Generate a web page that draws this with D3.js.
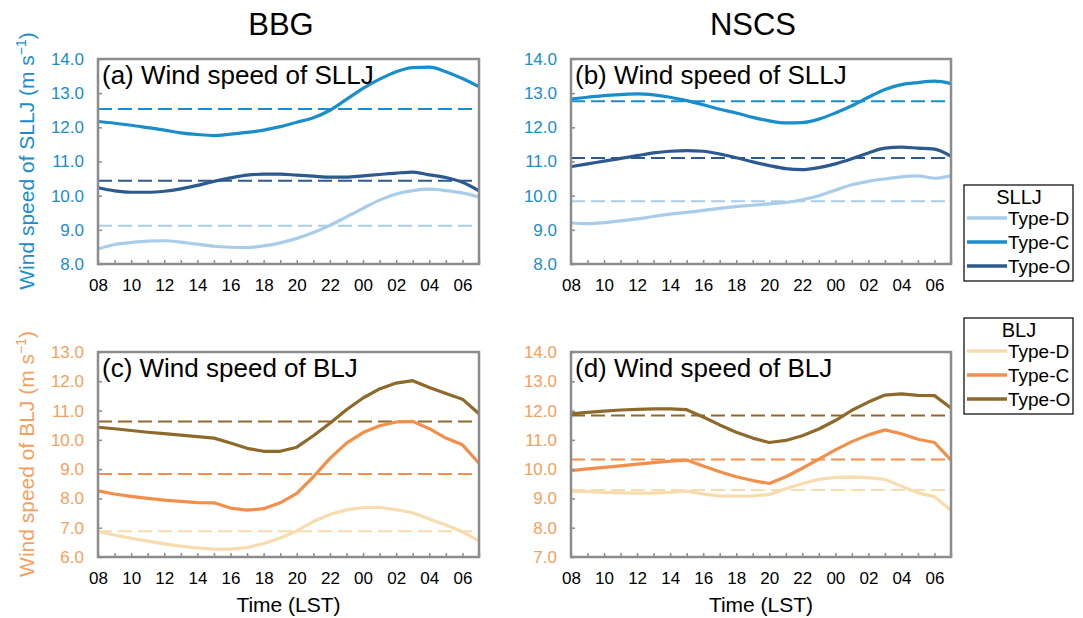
<!DOCTYPE html>
<html>
<head>
<meta charset="utf-8">
<script src="https://cdn.jsdelivr.net/npm/d3@7"></script>
<style>
body { margin: 0; background: #fff; }
text { font-family: "Liberation Sans", Arial, sans-serif; }
</style>
</head>
<body>
<div id="chart"></div>
<script>
const width = 1083;
const height = 618;

// hourly local time, 08 LST to 07 LST next day
const hours = ["08","09","10","11","12","13","14","15","16","17","18","19",
               "20","21","22","23","00","01","02","03","04","05","06","07"];
const hourLabels = ["08","10","12","14","16","18","20","22","00","02","04","06"];
const types = ["Type-D", "Type-C", "Type-O"];

const slljTicks = [8, 9, 10, 11, 12, 13, 14];
const bljTicksBBG = [6, 7, 8, 9, 10, 11, 12, 13];
const bljTicksNSCS = [7, 8, 9, 10, 11, 12, 13, 14];

// (a) BBG SLLJ
const bbgSlljD = [8.44,8.57,8.63,8.67,8.68,8.64,8.58,8.52,8.49,8.48,8.53,8.62,
                  8.75,8.92,9.13,9.38,9.63,9.87,10.05,10.15,10.19,10.15,10.08,9.96];
const bbgSlljC = [12.17,12.12,12.06,11.99,11.92,11.84,11.79,11.76,11.80,11.85,11.92,12.02,
                  12.15,12.28,12.50,12.82,13.14,13.41,13.63,13.75,13.76,13.63,13.43,13.19];
const bbgSlljO = [10.23,10.14,10.10,10.10,10.13,10.20,10.30,10.42,10.52,10.60,10.63,10.63,
                  10.60,10.57,10.54,10.54,10.58,10.62,10.66,10.69,10.61,10.53,10.39,10.14];
const bbgSlljMean = [9.12, 12.54, 10.44];

// (b) NSCS SLLJ
const nscsSlljD = [9.20,9.18,9.21,9.26,9.32,9.39,9.46,9.51,9.57,9.63,9.68,9.72,
                   9.76,9.80,9.88,10.00,10.16,10.32,10.42,10.49,10.55,10.58,10.51,10.58];
const nscsSlljC = [12.83,12.88,12.93,12.96,12.98,12.95,12.88,12.78,12.66,12.53,12.42,12.29,
                   12.19,12.13,12.14,12.24,12.42,12.63,12.88,13.11,13.25,13.31,13.35,13.28];
const nscsSlljO = [10.85,10.93,11.01,11.09,11.17,11.25,11.30,11.32,11.30,11.22,11.11,10.99,
                   10.88,10.79,10.76,10.82,10.93,11.08,11.25,11.39,11.42,11.39,11.36,11.15];
const nscsSlljMean = [9.84, 12.76, 11.10];

// (c) BBG BLJ
const bbgBljD = [6.87,6.75,6.64,6.54,6.45,6.37,6.31,6.27,6.27,6.32,6.46,6.65,
                 6.89,7.21,7.45,7.61,7.69,7.69,7.62,7.51,7.30,7.09,6.86,6.55];
const bbgBljC = [8.26,8.15,8.07,8.00,7.94,7.90,7.86,7.85,7.67,7.60,7.65,7.85,
                 8.17,8.74,9.37,9.89,10.25,10.48,10.61,10.63,10.38,10.06,9.83,9.20];
const bbgBljO = [10.43,10.38,10.32,10.26,10.21,10.16,10.11,10.06,9.89,9.71,9.61,9.61,
                 9.75,10.14,10.57,11.03,11.43,11.74,11.94,12.02,11.79,11.58,11.39,10.89];
const bbgBljMean = [6.88, 8.83, 10.63];

// (d) NSCS BLJ
const nscsBljD = [9.25,9.23,9.21,9.19,9.18,9.18,9.21,9.25,9.15,9.09,9.08,9.09,
                  9.13,9.33,9.51,9.65,9.72,9.73,9.71,9.65,9.42,9.19,9.06,8.60];
const nscsBljC = [9.95,10.01,10.06,10.11,10.17,10.22,10.27,10.31,10.11,9.91,9.74,9.61,
                  9.51,9.74,10.03,10.34,10.66,10.94,11.17,11.34,11.21,11.02,10.91,10.31];
const nscsBljO = [11.89,11.94,11.98,12.02,12.04,12.06,12.06,12.03,11.78,11.51,11.26,11.06,
                  10.91,10.98,11.14,11.37,11.66,12.01,12.29,12.53,12.57,12.52,12.51,12.09];
const nscsBljMean = [9.29, 10.33, 11.83];

const slljColors = ["#a9cde9", "#1a8dcb", "#2d5a8e"];
const bljColors = ["#f6dcae", "#f28f4b", "#8d6a2c"];
const slljTextColor = "#1a8dcb";
const bljTextColor = "#f5a05c";
const frameColor = "#8c8c8c";

const svg = d3.select("#chart").append("svg")
    .attr("width", width)
    .attr("height", height)
    .style("background-color", "#fff");

const panels = [
    { title: "(a) Wind speed of SLLJ", x0: 98, x1: 479, y0: 59, y1: 264,
      ticks: slljTicks, series: [bbgSlljD, bbgSlljC, bbgSlljO], means: bbgSlljMean,
      colors: slljColors, tickColor: slljTextColor, smooth: true, xTitle: false },
    { title: "(b) Wind speed of SLLJ", x0: 571, x1: 951, y0: 59, y1: 264,
      ticks: slljTicks, series: [nscsSlljD, nscsSlljC, nscsSlljO], means: nscsSlljMean,
      colors: slljColors, tickColor: slljTextColor, smooth: true, xTitle: false },
    { title: "(c) Wind speed of BLJ", x0: 98, x1: 479, y0: 352, y1: 557,
      ticks: bljTicksBBG, series: [bbgBljD, bbgBljC, bbgBljO], means: bbgBljMean,
      colors: bljColors, tickColor: bljTextColor, smooth: false, xTitle: true },
    { title: "(d) Wind speed of BLJ", x0: 571, x1: 951, y0: 352, y1: 557,
      ticks: bljTicksNSCS, series: [nscsBljD, nscsBljC, nscsBljO], means: nscsBljMean,
      colors: bljColors, tickColor: bljTextColor, smooth: false, xTitle: true }
];

panels.forEach(p => {
    const x = d3.scaleLinear().domain([0, hours.length - 1]).range([p.x0, p.x1]);
    const y = d3.scaleLinear().domain(d3.extent(p.ticks)).range([p.y1, p.y0]);
    const g = svg.append("g");

    // mean values (dashed)
    p.means.forEach((m, k) => {
        g.append("line")
            .attr("x1", p.x0).attr("x2", p.x1)
            .attr("y1", y(m)).attr("y2", y(m))
            .attr("stroke", p.colors[k])
            .attr("stroke-width", 2)
            .attr("stroke-dasharray", "14,6");
    });

    const line = d3.line()
        .x((d, i) => x(i))
        .y(d => y(d))
        .curve(p.smooth ? d3.curveMonotoneX : d3.curveLinear);

    p.series.forEach((s, k) => {
        g.append("path")
            .datum(s)
            .attr("d", line)
            .attr("fill", "none")
            .attr("stroke", p.colors[k])
            .attr("stroke-width", 3.2)
            .attr("stroke-linejoin", "round");
    });

    // axes
    const xAxis = d3.axisBottom(x)
        .tickValues(d3.range(hours.length))
        .tickSizeInner(-4).tickSizeOuter(0).tickPadding(15)
        .tickFormat(i => hourLabels.includes(hours[i]) ? hours[i] : "");
    const gx = g.append("g").attr("transform", `translate(0,${p.y1})`).call(xAxis);
    gx.select(".domain").remove();
    gx.selectAll("line").attr("stroke", frameColor).attr("stroke-width", 1.5);
    gx.selectAll("text").attr("font-size", 17).attr("fill", "#000")
        .attr("font-family", "Liberation Sans, Arial, sans-serif");

    const yAxis = d3.axisLeft(y)
        .tickValues(p.ticks)
        .tickSizeInner(-4).tickSizeOuter(0).tickPadding(14)
        .tickFormat(d3.format(".1f"));
    const gy = g.append("g").attr("transform", `translate(${p.x0},0)`).call(yAxis);
    gy.select(".domain").remove();
    gy.selectAll("line").attr("stroke", frameColor).attr("stroke-width", 1.5);
    gy.selectAll("text").attr("font-size", 17).attr("fill", p.tickColor)
        .attr("font-family", "Liberation Sans, Arial, sans-serif");

    // frame
    g.append("rect")
        .attr("x", p.x0).attr("y", p.y0)
        .attr("width", p.x1 - p.x0).attr("height", p.y1 - p.y0)
        .attr("fill", "none")
        .attr("stroke", frameColor)
        .attr("stroke-width", 2.5);

    g.append("text")
        .attr("x", p.x0 + 4).attr("y", p.y0 + 25)
        .attr("font-size", 26)
        .attr("fill", "#000")
        .text(p.title);

    if (p.xTitle) {
        g.append("text")
            .attr("x", (p.x0 + p.x1) / 2).attr("y", 612)
            .attr("text-anchor", "middle")
            .attr("font-size", 21)
            .text("Time (LST)");
    }
});

// column headers
svg.append("text").attr("x", 281).attr("y", 35).attr("text-anchor", "middle")
    .attr("font-size", 31).text("BBG");
svg.append("text").attr("x", 753).attr("y", 35).attr("text-anchor", "middle")
    .attr("font-size", 31).text("NSCS");

// y axis titles
function yTitle(label, cy, color) {
    const t = svg.append("text")
        .attr("transform", `translate(34,${cy}) rotate(-90)`)
        .attr("text-anchor", "middle")
        .attr("font-size", 21)
        .attr("fill", color);
    t.append("tspan").text(`Wind speed of ${label} (m s`);
    t.append("tspan").attr("dy", -8).attr("font-size", 14).text("\u22121");
    t.append("tspan").attr("dy", 8).text(")");
}
yTitle("SLLJ", 161, slljTextColor);
yTitle("BLJ", 454, bljTextColor);

// legends
function legend(title, top, colors) {
    const g = svg.append("g");
    g.append("rect")
        .attr("x", 964).attr("y", top)
        .attr("width", 109).attr("height", 96)
        .attr("fill", "#fff").attr("stroke", "#000").attr("stroke-width", 1.2);
    g.append("text")
        .attr("x", 1019).attr("y", top + 19)
        .attr("text-anchor", "middle")
        .attr("font-size", 20)
        .text(title);
    types.forEach((t, k) => {
        const yy = top + 33 + k * 24;
        g.append("line")
            .attr("x1", 967).attr("x2", 1007)
            .attr("y1", yy).attr("y2", yy)
            .attr("stroke", colors[k]).attr("stroke-width", 3.5);
        g.append("text")
            .attr("x", 1008).attr("y", yy)
            .attr("dy", "0.35em")
            .attr("font-size", 19)
            .text(t);
    });
}
legend("SLLJ", 185, slljColors);
legend("BLJ", 318, bljColors);
</script>
</body>
</html>
